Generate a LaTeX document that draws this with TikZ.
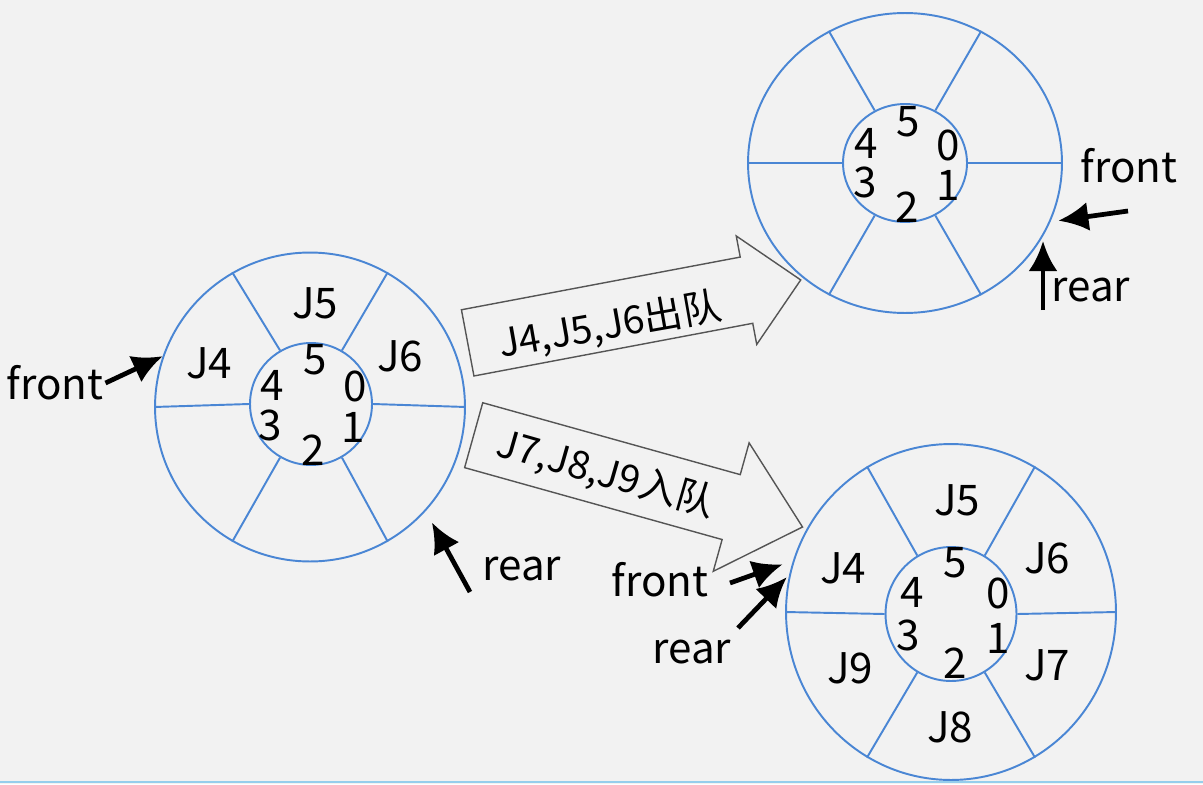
\documentclass[tikz,border=0pt]{standalone}
\usepackage{fontspec}
\setmainfont{Noto Sans CJK SC}
\usepackage{xcolor}
\usepackage{tikz}
\usetikzlibrary{shapes,arrows,arrows.meta,positioning,calc}

\definecolor{qblue}{RGB}{74,134,212}
\definecolor{paper}{RGB}{242,242,242}
\definecolor{rulecol}{RGB}{150,206,236}
\definecolor{edge}{RGB}{85,85,85}

\begin{document}
\begin{tikzpicture}[x=0.02cm, y=-0.02cm, font=\fontsize{24}{28}\selectfont]
    \tikzstyle{ring} = [ellipse, draw=qblue, line width=1.1pt, inner sep=0pt]
    \tikzstyle{spoke} = [draw=qblue, line width=1.1pt]
    \tikzstyle{tag} = [inner sep=1pt, text=black]
    \tikzstyle{bigarrow} = [single arrow, draw=edge, line width=0.8pt, anchor=tail, inner xsep=0pt, inner ysep=0.66cm]
    \tikzstyle{pointer} = [draw, line width=2.7pt, -{Latex[length=0.6cm, width=0.58cm]}]

    % background
    \fill [paper] (0,0) rectangle (1203,784);
    \useasboundingbox (0,0) rectangle (1203,784);
    \draw [rulecol, line width=1.6pt] (0,782) -- (1203,782);

    % queue before
    \node [ring, minimum width=6.2cm, minimum height=6.18cm] (qa) at (310,407) {};
    \node [ring, minimum width=2.44cm, minimum height=2.44cm] (qa-hub) at (311,404) {};
    \foreach \a in {0,60,...,300}
        \path [spoke] (qa-hub.\a) -- (qa.\a);
    \foreach \n/\x/\y in {5/315/360, 4/272/385, 0/355/386, 3/270/425, 1/353/427, 2/313/450}
        \node [tag] (qa-\n) at (\x,\y) {\n};
    \node [tag] (qa-j4) at (209,363) {J4};
    \node [tag] (qa-j5) at (315,303) {J5};
    \node [tag] (qa-j6) at (400,356) {J6};

    % queue after dequeue
    \node [ring, minimum width=6.28cm, minimum height=6cm] (qb) at (905,163) {};
    \node [ring, minimum width=2.48cm, minimum height=2.36cm] (qb-hub) at (905,163) {};
    \foreach \a in {0,60,...,300}
        \path [spoke] (qb-hub.\a) -- (qb.\a);
    \foreach \n/\x/\y in {5/908/122, 4/866/143, 0/948/145, 3/865/182, 1/948/185, 2/907/207}
        \node [tag] (qb-\n) at (\x,\y) {\n};

    % queue after enqueue
    \node [ring, minimum width=6.6cm, minimum height=6.72cm] (qc) at (951,612) {};
    \node [ring, minimum width=2.62cm, minimum height=2.68cm] (qc-hub) at (951,614) {};
    \foreach \a in {0,60,...,300}
        \path [spoke] (qc-hub.\a) -- (qc.\a);
    \foreach \n/\x/\y in {5/955/563, 4/912/592, 0/998/593, 3/908/635, 1/998/638, 2/955/663}
        \node [tag] (qc-\n) at (\x,\y) {\n};
    \node [tag] (qc-j4) at (843,568) {J4};
    \node [tag] (qc-j5) at (957,500) {J5};
    \node [tag] (qc-j6) at (1047,558) {J6};
    \node [tag] (qc-j7) at (1047,665) {J7};
    \node [tag] (qc-j8) at (950,727) {J8};
    \node [tag] (qc-j9) at (850,668) {J9};

    % block arrows
    \node [bigarrow, minimum height=6.78cm, minimum width=2.18cm, single arrow head extend=0.43cm, rotate=10.7] (deq) at (467,343) {};
    \node [tag, rotate=10, font=\fontsize{22}{26}\selectfont] (deq-text) at (610,326) {J4,J5,J6出队};
    \node [bigarrow, minimum height=6.83cm, minimum width=2.65cm, single arrow head extend=0.66cm, single arrow tip angle=84, rotate=-15.6] (enq) at (473,435) {};
    \node [tag, rotate=-16, font=\fontsize{22}{26}\selectfont] (enq-text) at (606,474) {J7,J8,J9入队};

    % front and rear
    \node [tag] (fa) at (55,383) {front};
    \node [tag] (ra) at (522,569) {rear};
    \coordinate (ra-tail) at (470,592);
    \path [pointer] (fa.east) -- (qa.161);
    \path [pointer, shorten >=0.26cm] (ra-tail) -- (qa.-42);

    \node [tag] (fb) at (1129,166) {front};
    \node [tag] (rb) at (1091,290) {rear};
    \coordinate (fb-tail) at (1128,211);
    \coordinate (rb-tail) at (1043,310);
    \path [pointer, shorten >=0.16cm] (fb-tail) -- (qb.-22);
    \path [pointer] (rb-tail) -- (rb-tail |- qb.-30);

    \node [tag] (fc) at (660,580) {front};
    \node [tag] (rc) at (692,652) {rear};
    \coordinate (fc-tail) at (730,583);
    \coordinate (rc-tail) at (738,628);
    \path [pointer, shorten >=0.22cm] (fc-tail) -- (qc.162);
    \path [pointer, shorten >=0.07cm] (rc-tail) -- (qc.167);
\end{tikzpicture}
\end{document}
